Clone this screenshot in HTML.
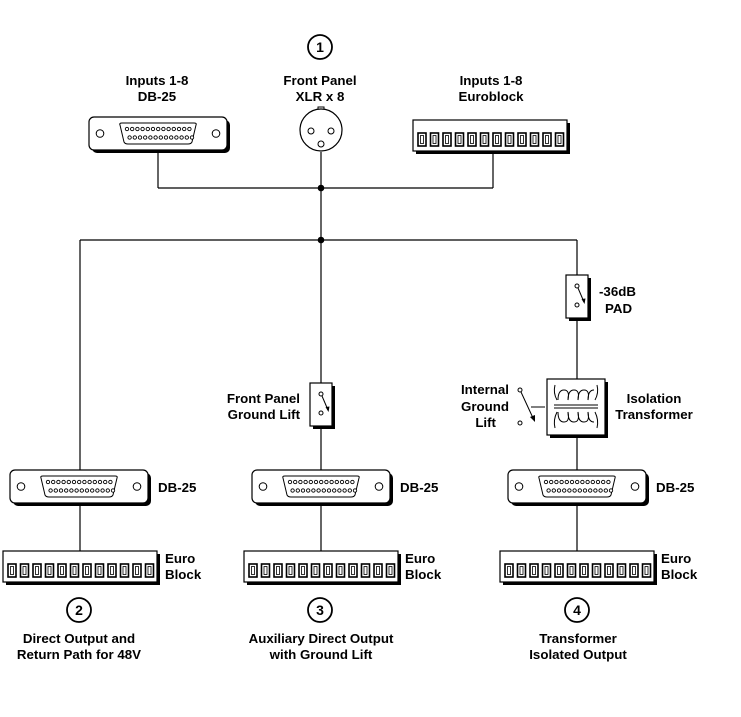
<!DOCTYPE html>
<html><head><meta charset="utf-8"><style>
html,body{margin:0;padding:0;background:#fff}
svg{display:block}
text{font-family:"Liberation Sans",Arial,sans-serif;font-weight:bold;font-size:13.3px;fill:#000}
</style></head><body>
<svg width="741" height="717" viewBox="0 0 741 717" xmlns="http://www.w3.org/2000/svg">
<defs>
<g id="pin"><circle r="1.7" fill="#fff" stroke="#000" stroke-width="0.9"/></g>
<g id="row13">
<use href="#pin" x="0"/><use href="#pin" x="5.2"/><use href="#pin" x="10.4"/><use href="#pin" x="15.6"/><use href="#pin" x="20.8"/><use href="#pin" x="26"/><use href="#pin" x="31.2"/><use href="#pin" x="36.4"/><use href="#pin" x="41.6"/><use href="#pin" x="46.8"/><use href="#pin" x="52"/><use href="#pin" x="57.2"/><use href="#pin" x="62.4"/>
</g>
<g id="db25">
<rect x="3" y="3" width="138" height="33" rx="5" fill="#000"/>
<rect x="0" y="0" width="138" height="33" rx="5" fill="#fff" stroke="#000" stroke-width="1.2"/>
<circle cx="11" cy="16.5" r="3.8" fill="#fff" stroke="#000"/>
<circle cx="127" cy="16.5" r="3.8" fill="#fff" stroke="#000"/>
<path d="M31 8 Q30 6 33 6 L105 6 Q108 6 107 8 L103 25 Q102 27 99 27 L39 27 Q36 27 35 25 Z" fill="#fff" stroke="#000" stroke-width="1"/>
<use href="#row13" x="38" y="12"/>
<use href="#row13" x="40.6" y="20.5"/>
</g>
<g id="sq"><rect x="0" y="0" width="8" height="13" fill="#fff" stroke="#000" stroke-width="1.6"/><rect x="2.5" y="2.5" width="3" height="8" fill="#fff" stroke="#000" stroke-width="0.8"/></g>
<g id="euro">
<rect x="3" y="3" width="154" height="31" fill="#000"/>
<rect x="0" y="0" width="154" height="31" fill="#fff" stroke="#000" stroke-width="1.2"/>
<use href="#sq" x="5" y="13"/><use href="#sq" x="17.5" y="13"/><use href="#sq" x="30" y="13"/><use href="#sq" x="42.5" y="13"/><use href="#sq" x="55" y="13"/><use href="#sq" x="67.5" y="13"/><use href="#sq" x="80" y="13"/><use href="#sq" x="92.5" y="13"/><use href="#sq" x="105" y="13"/><use href="#sq" x="117.5" y="13"/><use href="#sq" x="130" y="13"/><use href="#sq" x="142.5" y="13"/>
</g>
<g id="sw">
<rect x="3" y="3" width="22" height="43" fill="#000"/>
<rect x="0" y="0" width="22" height="43" fill="#fff" stroke="#000" stroke-width="1.2"/>
<circle cx="11" cy="11" r="2" fill="#fff" stroke="#000"/>
<circle cx="11" cy="30" r="2" fill="#fff" stroke="#000"/>
<line x1="12" y1="13" x2="18" y2="27" stroke="#000"/>
<path d="M18.5 29 L15.5 24 L19.5 23.5 Z" fill="#000"/>
</g>
</defs>

<g stroke="#000" stroke-width="1.2" fill="none">
<line x1="158" y1="150" x2="158" y2="188"/><line x1="158" y1="188" x2="493" y2="188"/><line x1="493" y1="150" x2="493" y2="188"/>
<line x1="321" y1="152" x2="321" y2="240"/>
<line x1="80" y1="240" x2="577" y2="240"/>
<line x1="80" y1="240" x2="80" y2="551"/>
<line x1="321" y1="240" x2="321" y2="551"/>
<line x1="577" y1="240" x2="577" y2="551"/>
</g>
<circle cx="321" cy="188" r="3.3" fill="#000"/>
<circle cx="321" cy="240" r="3.3" fill="#000"/>

<g stroke="#000" stroke-width="1.8" fill="#fff">
<circle cx="320" cy="47" r="12"/><circle cx="79" cy="610" r="12"/><circle cx="320" cy="610" r="12"/><circle cx="577" cy="610" r="12"/>
</g>
<text x="320" y="52" text-anchor="middle" style="font-size:14px">1</text>
<text x="79" y="615" text-anchor="middle" style="font-size:14px">2</text>
<text x="320" y="615" text-anchor="middle" style="font-size:14px">3</text>
<text x="577" y="615" text-anchor="middle" style="font-size:14px">4</text>

<text x="157" y="85" text-anchor="middle">Inputs 1-8</text><text x="157" y="101" text-anchor="middle">DB-25</text>
<text x="320" y="85" text-anchor="middle">Front Panel</text><text x="320" y="101" text-anchor="middle">XLR x 8</text>
<text x="491" y="85" text-anchor="middle">Inputs 1-8</text><text x="491" y="101" text-anchor="middle">Euroblock</text>

<use href="#db25" x="89" y="117"/>
<rect x="318" y="107" width="6" height="4" fill="#fff" stroke="#000"/>
<circle cx="321" cy="130" r="21" fill="#fff" stroke="#000" stroke-width="1.2"/>
<circle cx="311" cy="131" r="3" fill="#fff" stroke="#000"/><circle cx="331" cy="131" r="3" fill="#fff" stroke="#000"/><circle cx="321" cy="144" r="3" fill="#fff" stroke="#000"/>
<use href="#euro" x="413" y="120"/>

<use href="#sw" x="566" y="275"/>
<text x="599" y="296">-36dB</text><text x="605" y="313">PAD</text>
<use href="#sw" x="310" y="383"/>
<text x="300" y="403" text-anchor="end">Front Panel</text><text x="300" y="419" text-anchor="end">Ground Lift</text>

<rect x="550" y="382" width="58" height="56" fill="#000"/>
<rect x="547" y="379" width="58" height="56" fill="#fff" stroke="#000" stroke-width="1.2"/>
<g stroke="#000" fill="none" stroke-width="1">
<path d="M555 385 Q553 393 557 400 M597 385 Q599 393 595 400"/>
<path d="M558 400 q0 -10 6 -10 q6 0 4 10 q0 -10 6 -10 q6 0 4 10 q0 -10 6 -10 q6 0 4 10 q0 -10 6 -10"/>
<line x1="554" y1="405" x2="598" y2="405"/><line x1="554" y1="408" x2="598" y2="408"/>
<path d="M558 412 q0 10 6 10 q6 0 4 -10 q0 10 6 10 q6 0 4 -10 q0 10 6 10 q6 0 4 -10 q0 10 6 10"/>
<path d="M555 428 Q553 420 557 412 M597 428 Q599 420 595 412"/>
<line x1="531" y1="407" x2="545" y2="407"/>
<circle cx="520" cy="390" r="2"/><circle cx="520" cy="423" r="2"/>
<line x1="521" y1="392" x2="533" y2="418"/>
</g>
<path d="M535 422 L530 417 L535 415 Z" fill="#000"/>
<text x="509" y="394" text-anchor="end">Internal</text><text x="509" y="411" text-anchor="end">Ground</text><text x="496" y="427" text-anchor="end">Lift</text>
<text x="654" y="403" text-anchor="middle">Isolation</text><text x="654" y="419" text-anchor="middle">Transformer</text>

<use href="#db25" x="10" y="470"/><use href="#db25" x="252" y="470"/><use href="#db25" x="508" y="470"/>
<text x="158" y="492">DB-25</text><text x="400" y="492">DB-25</text><text x="656" y="492">DB-25</text>

<use href="#euro" x="3" y="551"/><use href="#euro" x="244" y="551"/><use href="#euro" x="500" y="551"/>
<text x="165" y="563">Euro</text><text x="165" y="579">Block</text>
<text x="405" y="563">Euro</text><text x="405" y="579">Block</text>
<text x="661" y="563">Euro</text><text x="661" y="579">Block</text>

<text x="79" y="643" text-anchor="middle">Direct Output and</text><text x="79" y="659" text-anchor="middle">Return Path for 48V</text>
<text x="321" y="643" text-anchor="middle">Auxiliary Direct Output</text><text x="321" y="659" text-anchor="middle">with Ground Lift</text>
<text x="578" y="643" text-anchor="middle">Transformer</text><text x="578" y="659" text-anchor="middle">Isolated Output</text>
</svg>
</body></html>
